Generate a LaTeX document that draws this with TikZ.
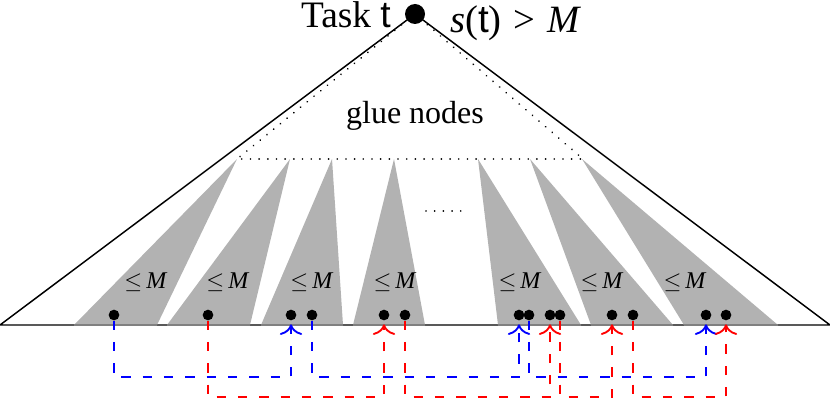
\documentclass[tikz,border=0pt]{standalone}
\usepackage{fontspec}
\setmainfont{Liberation Serif}
\newfontfamily\sansf{Liberation Sans}
\usetikzlibrary{arrows.meta,calc}
\begin{document}
\begin{tikzpicture}[x=0.75pt,y=-0.75pt,
  leaf/.style={circle,fill=black,inner sep=0pt,minimum size=8pt},
  sub/.style={fill=gray!60,draw=none},
  gdot/.style={line width=1.4pt,dash pattern=on 0.01pt off 6.5pt,line cap=round},
  cn/.style={line width=1.4pt,dash pattern=on 7pt off 9pt,-{Computer Modern Rightarrow[scale=1.7]}},
  bl/.style={cn,draw=blue},
  rd/.style={cn,draw=red},
  lbl/.style={anchor=base,font=\fontsize{18}{21}\selectfont,inner sep=0pt}]
\useasboundingbox (0,0) rectangle (830,399);
% outer triangle
\draw[line width=1.1pt] (0,325) -- (415,14) -- (830,325) -- cycle;
% glue region (dotted)
\draw[gdot] (415,14) -- (237,159) -- (583,159) -- cycle;
\draw[gdot] (426,211) -- (463,211);
% subtrees
\fill[sub] (237,159) -- (74,325) -- (157,325) -- cycle;
\fill[sub] (290,159) -- (167,325) -- (250,325) -- cycle;
\fill[sub] (332,159) -- (261,325) -- (343,325) -- cycle;
\fill[sub] (394,159) -- (353,325) -- (425,325) -- cycle;
\fill[sub] (478,159) -- (498,325) -- (581,325) -- cycle;
\fill[sub] (530,159) -- (591,325) -- (673,325) -- cycle;
\fill[sub] (582,159) -- (684,325) -- (778,325) -- cycle;
\foreach \a/\b in {74/157,167/250,261/343,353/425,498/581,591/673,684/778}
  \draw[line width=1.1pt,gray] (\a,325) -- (\b,325);
% labels
\foreach \x [count=\i] in {146,228,312,395,520,602,685}
  \node[lbl] (m\i) at (\x,288) {$\leq$\,\textit{M}};
% texts
\node[circle,fill=black,inner sep=0pt,minimum size=15pt] (root) at (415,14) {};
\node[anchor=base east,font=\fontsize{28}{33}\selectfont,inner sep=0pt] (task) at (391,28) {Task {\sansf t}};
\node[anchor=base west,font=\fontsize{29}{34}\selectfont,inner sep=0pt] (cond) at (450,33) {\textit{s}({\sansf t})\hspace{9pt}>\hspace{9pt}\textit{M}};
\node[anchor=base,font=\fontsize{24}{29}\selectfont,inner sep=0pt] (glue) at (415,123) {glue nodes};
% leaves
\foreach \x [count=\i] in {114,208,291,312,384,405,519,529,550,560,612,633,706,726}
  \node[leaf] (l\i) at (\x,315) {};
% blue connectors
\draw[bl] (l1.south) |- ($(l3.south)+(0,56.7)$) -- ($(l3.south)+(0,3.7)$);
\draw[bl] (l4.south) |- ($(l7.south)+(0,56.7)$) -- ($(l7.south)+(0,3.7)$);
\draw[bl] (l8.south) |- ($(l13.south)+(0,56.7)$) -- ($(l13.south)+(0,3.7)$);
% red connectors
\draw[rd] (l2.south) |- ($(l5.south)+(0,76.7)$) -- ($(l5.south)+(0,3.7)$);
\draw[rd] (l6.south) |- ($(l9.south)+(0,76.7)$) -- ($(l9.south)+(0,3.7)$);
\draw[rd] (l10.south) |- ($(l11.south)+(0,76.7)$) -- ($(l11.south)+(0,3.7)$);
\draw[rd] (l12.south) |- ($(l14.south)+(0,76.7)$) -- ($(l14.south)+(0,3.7)$);
\end{tikzpicture}
\end{document}
